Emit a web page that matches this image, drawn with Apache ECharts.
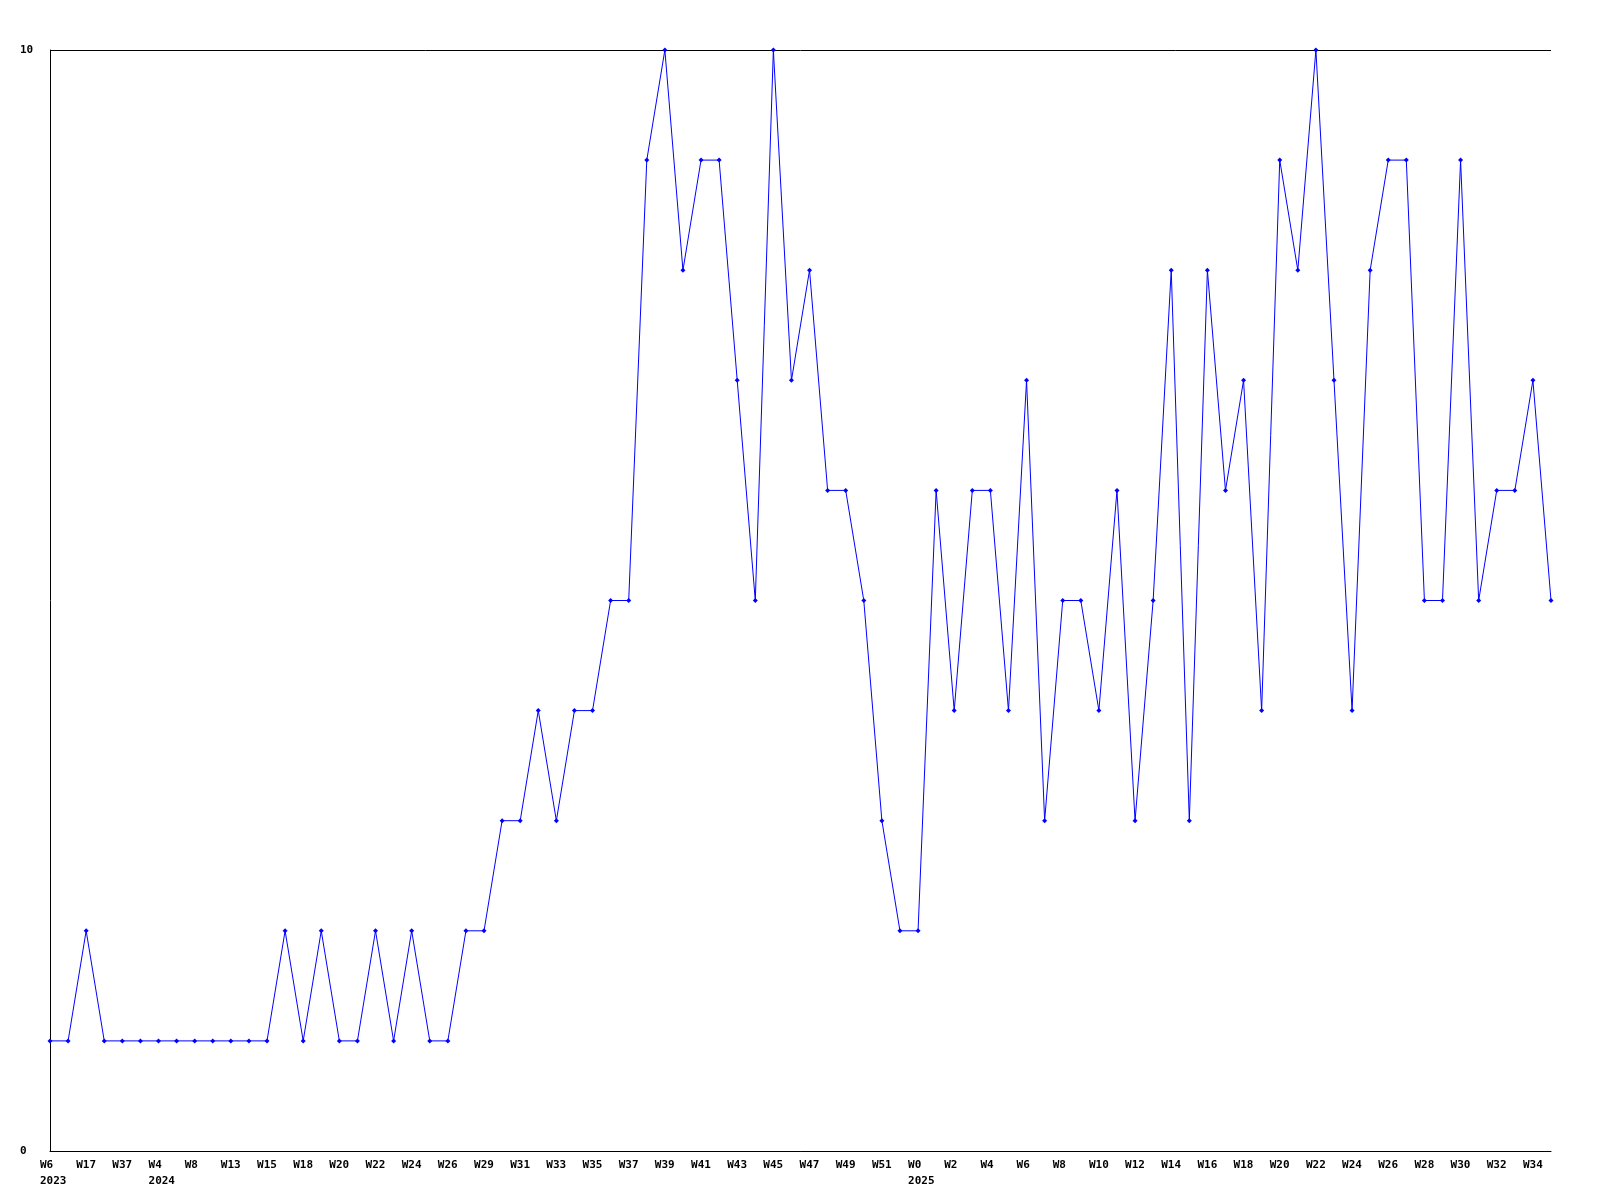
<!DOCTYPE html>
<html>
<head>
<meta charset="utf-8">
<script src="https://cdn.jsdelivr.net/npm/echarts@6/dist/echarts.min.js"></script>
<style>
html,body{margin:0;padding:0;background:#fff;}
#chart{width:1600px;height:1200px;}
</style>
</head>
<body>
<div id="chart"></div>
<script>
// Week categories (year shown under the first week of each year)
const categories = [
  "W6\n2023","W12","W17","W25","W37","W45","W4\n2024","W6","W8","W11","W13","W14","W15","W17",
  "W18","W19","W20","W21","W22","W23","W24","W25","W26","W28",
  "W29","W30","W31","W32","W33","W34","W35","W36","W37","W38","W39","W40","W41","W42","W43","W44",
  "W45","W46","W47","W48","W49","W50","W51","W52",
  "W0\n2025","W1","W2","W3","W4","W5","W6","W7","W8","W9","W10","W11","W12","W13","W14","W15",
  "W16","W17","W18","W19","W20","W21","W22","W23","W24","W25","W26","W27","W28","W29","W30",
  "W31","W32","W33","W34","W35"
];
const values = [
  1,1,2,1,1,1,1,1,1,1,1,1,1,2,
  1,2,1,1,2,1,2,1,1,2,
  2,3,3,4,3,4,4,5,5,9,10,8,9,9,7,5,
  10,7,8,6,6,5,3,2,
  2,6,4,6,6,4,7,3,5,5,4,6,3,5,8,3,
  8,6,7,4,9,8,10,7,4,8,9,9,5,5,9,
  5,6,6,7,5
];
const yTicks = [0, 10];

const chart = echarts.init(document.getElementById('chart'), null, {renderer: 'canvas'});
const font = {fontFamily: 'DejaVu Sans Mono', fontWeight: 'bold', fontSize: 11, color: '#000'};
chart.setOption({
  animation: false,
  backgroundColor: '#fff',
  grid: {left: 50, top: 50, right: 49, bottom: 49, containLabel: false},
  xAxis: {
    type: 'category',
    data: categories,
    boundaryGap: false,
    axisLine: {show: true, lineStyle: {color: '#000', width: 1}},
    axisTick: {show: false},
    axisLabel: Object.assign({}, font, {
      interval: function (i) { return i % 2 === 0; },
      align: 'left',
      padding: [0, 0, 0, -10],
      margin: 6,
      lineHeight: 16,
      hideOverlap: false
    }),
    splitLine: {show: false}
  },
  yAxis: {
    type: 'value',
    min: yTicks[0],
    max: yTicks[1],
    interval: yTicks[1] - yTicks[0],
    axisLine: {show: true, lineStyle: {color: '#000', width: 1}},
    axisTick: {show: false},
    axisLabel: Object.assign({}, font, {align: 'left', margin: 30}),
    splitLine: {show: true, lineStyle: {color: '#000', width: 1}}
  },
  series: [{
    type: 'line',
    data: values,
    symbol: 'diamond',
    symbolSize: 5,
    showAllSymbol: true,
    lineStyle: {color: '#0000ff', width: 1},
    itemStyle: {color: '#0000ff'},
    emphasis: {disabled: true}
  }]
});
</script>
</body>
</html>
